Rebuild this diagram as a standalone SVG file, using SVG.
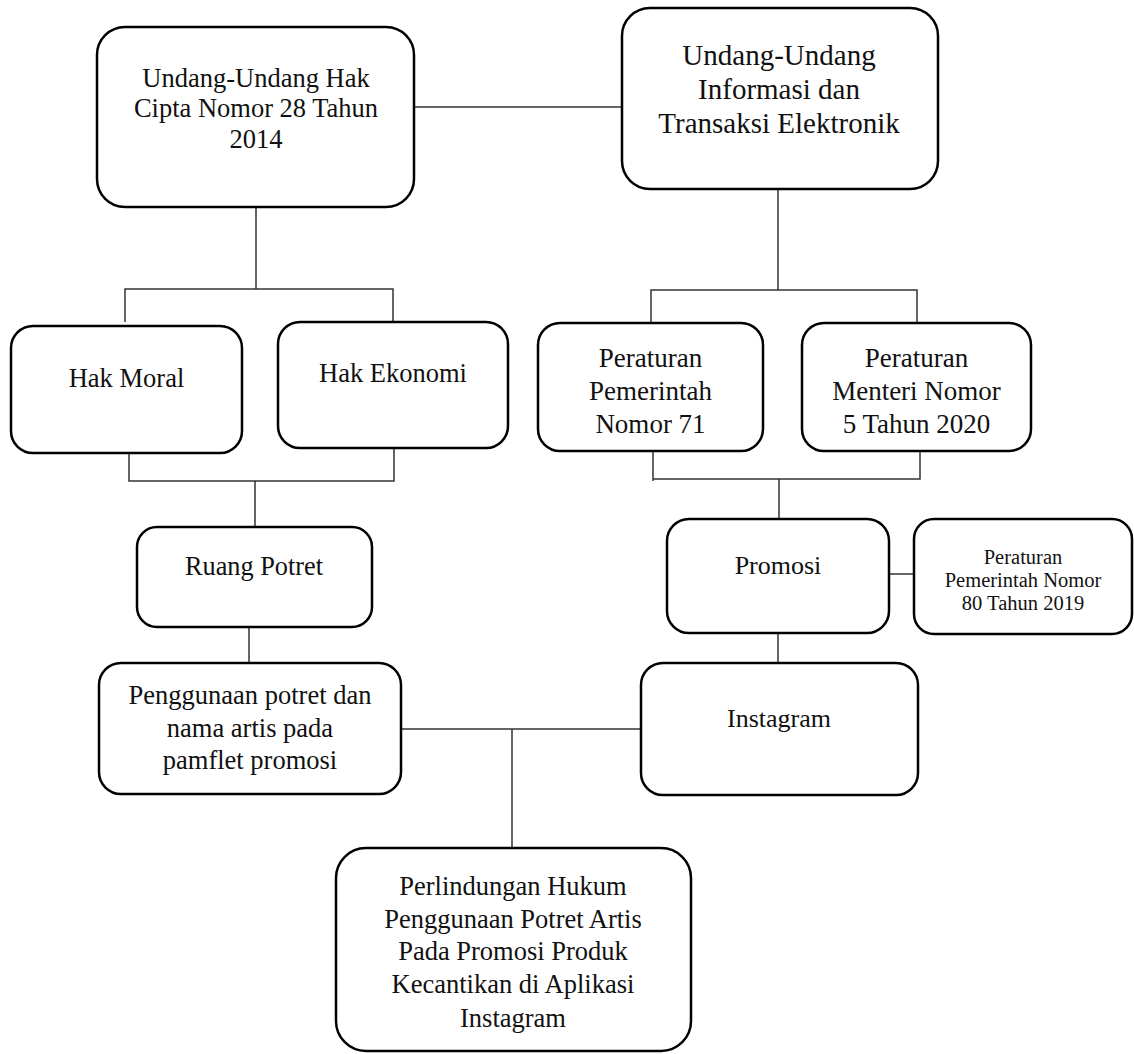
<svg xmlns="http://www.w3.org/2000/svg" width="1134" height="1054" viewBox="0 0 1134 1054">
<style>
.box{fill:#fff;stroke:#000;stroke-width:2.5}
.t{font-family:"Liberation Serif","Times New Roman",serif;fill:#111;text-anchor:middle}
.c{fill:none;stroke:#333;stroke-width:1.5}
</style>
<rect width="1134" height="1054" fill="#fff"/>
<g id="connectors">
<path class="c" d="M414 107H622"/>
<path class="c" d="M256 207V289M125 322V289H393V322"/>
<path class="c" d="M129 447V481H394V447M255 481V527"/>
<path class="c" d="M778 189V290M651 323V290H917V323"/>
<path class="c" d="M653 448V481M653 479H920V447M779 479V519"/>
<path class="c" d="M889 574H914"/>
<path class="c" d="M778 633V663"/>
<path class="c" d="M249 627V663"/>
<path class="c" d="M401 729H641M512 729V848"/>
</g>
<g id="uu-hak-cipta">
<rect class="box" x="97" y="27" width="317" height="180" rx="28"/>
<text class="t" font-size="26.5" x="256" y="87">Undang-Undang Hak</text>
<text class="t" font-size="26.5" x="256" y="117">Cipta Nomor 28 Tahun</text>
<text class="t" font-size="26.5" x="256" y="148">2014</text>
</g>
<g id="uu-ite">
<rect class="box" x="622" y="8" width="316" height="181" rx="28"/>
<text class="t" font-size="29" x="779" y="65">Undang-Undang</text>
<text class="t" font-size="29" x="779" y="99">Informasi dan</text>
<text class="t" font-size="29" x="779" y="133">Transaksi Elektronik</text>
</g>
<g id="hak-moral">
<rect class="box" x="11" y="326" width="231" height="127" rx="22"/>
<text class="t" font-size="26.5" x="126.5" y="387">Hak Moral</text>
</g>
<g id="hak-ekonomi">
<rect class="box" x="278" y="322" width="230" height="126" rx="22"/>
<text class="t" font-size="26.5" x="393" y="382">Hak Ekonomi</text>
</g>
<g id="pp-71">
<rect class="box" x="538" y="323" width="225" height="128" rx="22"/>
<text class="t" font-size="27" x="650.5" y="367">Peraturan</text>
<text class="t" font-size="27" x="650.5" y="400">Pemerintah</text>
<text class="t" font-size="27" x="650.5" y="433">Nomor 71</text>
</g>
<g id="pm-5">
<rect class="box" x="802" y="323" width="229" height="128" rx="22"/>
<text class="t" font-size="27" x="916.5" y="367">Peraturan</text>
<text class="t" font-size="27" x="916.5" y="400">Menteri Nomor</text>
<text class="t" font-size="27" x="916.5" y="433">5 Tahun 2020</text>
</g>
<g id="ruang-potret">
<rect class="box" x="137" y="527" width="235" height="100" rx="20"/>
<text class="t" font-size="26.3" x="254" y="575">Ruang Potret</text>
</g>
<g id="promosi">
<rect class="box" x="667" y="519" width="222" height="114" rx="22"/>
<text class="t" font-size="26" x="778" y="574">Promosi</text>
</g>
<g id="pp-80">
<rect class="box" x="914" y="519" width="218" height="115" rx="20"/>
<text class="t" font-size="20.5" x="1023" y="564">Peraturan</text>
<text class="t" font-size="20.5" x="1023" y="587">Pemerintah Nomor</text>
<text class="t" font-size="20.5" x="1023" y="610">80 Tahun 2019</text>
</g>
<g id="penggunaan">
<rect class="box" x="99" y="663" width="302" height="131" rx="22"/>
<text class="t" font-size="26.5" x="250" y="704">Penggunaan potret dan</text>
<text class="t" font-size="26.5" x="250" y="737">nama artis pada</text>
<text class="t" font-size="26.5" x="250" y="769">pamflet promosi</text>
</g>
<g id="instagram">
<rect class="box" x="641" y="663" width="277" height="132" rx="22"/>
<text class="t" font-size="26" x="779" y="727">Instagram</text>
</g>
<g id="perlindungan">
<rect class="box" x="336" y="848" width="355" height="203" rx="30"/>
<text class="t" font-size="26.5" x="513" y="895">Perlindungan Hukum</text>
<text class="t" font-size="26.5" x="513" y="928">Penggunaan Potret Artis</text>
<text class="t" font-size="26.5" x="513" y="960">Pada Promosi Produk</text>
<text class="t" font-size="26.5" x="513" y="993">Kecantikan di Aplikasi</text>
<text class="t" font-size="26.5" x="513" y="1027">Instagram</text>
</g>
</svg>
